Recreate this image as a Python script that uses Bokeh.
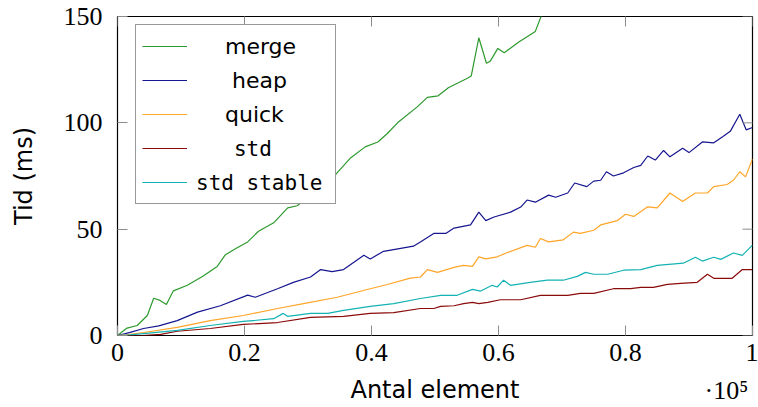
import math
from bokeh.plotting import figure
from bokeh.models import Range1d, FixedTicker, LinearAxis, Legend, LegendItem
from bokeh.embed import file_html
from bokeh.resources import INLINE

# ---------------- data ----------------
x_ticks = [0, 20000, 40000, 60000, 80000, 100000]
x_tick_labels = ["0", "0.2", "0.4", "0.6", "0.8", "1"]
y_ticks = [0, 50, 100, 150]
x_scale_label = "\u00b710\u2075"

merge_x = [0, 1500, 3100, 4700, 5700, 6700, 7700, 8800, 11000, 13500, 15700, 17000, 18700,
           20500, 22200, 24600, 26800, 28300, 34300, 36700, 39000, 41000, 42500, 44100,
           47200, 48800, 50500, 52100, 55100, 55700, 56900, 58100, 58700, 59900, 60900,
           63200, 65800, 66700, 68500, 70000]
merge_y = [0, 3.5, 4.7, 9.4, 17.5, 16.5, 14.6, 21, 23.6, 28, 32.5, 38, 41,
           44, 49, 53, 60, 61, 75.5, 83.5, 88.7, 91, 95, 100,
           107.5, 112, 112.7, 116.5, 121, 122, 140, 128, 129, 135, 133,
           138, 143, 150, 160, 168]

heap_x = [0, 2000, 4100, 6500, 9400, 12600, 16200, 20500, 21700, 25200, 27700, 30400, 32000,
          33800, 35600, 38800, 39800, 41900, 44600, 46600, 47700, 49800, 51700, 53000,
          55600, 56900, 58000, 59300, 61900, 63500, 64500, 65800, 67900, 69000, 70900,
          72000, 73900, 75000, 76100, 77000, 78100, 79700, 81300, 82400, 83500, 84700,
          86000, 87000, 89000, 90000, 92100, 93900, 95300, 96500, 98000, 99000, 100000]
heap_y = [0, 1.5, 3.3, 4.5, 7, 11, 14, 19, 18, 22, 25, 27.5, 31,
          30, 31, 37.7, 36, 39.6, 41, 42, 44, 48, 48, 50.5,
          52, 58, 54, 55.7, 58, 60.4, 63.7, 62.7, 66, 65, 67,
          71.7, 70, 72.6, 73, 77, 75, 76.5, 79, 80, 84.4, 82.5,
          87, 84, 88, 86, 91, 90.6, 93.5, 96, 104, 96.7, 97.8]

quick_x = [0, 2000, 4100, 9400, 14600, 19800, 25200, 29300, 34600, 39800, 42500, 46100,
           47700, 48800, 50400, 53000, 54500, 55900, 56900, 58000, 59800, 61400, 64500,
           65800, 66600, 67900, 70200, 71800, 72900, 75000, 76100, 78700, 80000, 81300,
           83500, 85000, 87000, 89000, 91000, 92900, 93900, 96000, 97000, 98000, 98900, 100000]
quick_y = [0, 0.5, 1.4, 3.8, 7, 9.4, 12.7, 15, 18, 22, 24, 27,
           27.5, 31, 29.7, 32, 33, 32.5, 37, 36, 37, 39, 42.4,
           41.5, 45.6, 44, 45, 48.6, 48, 49.5, 52, 54, 57, 56,
           60.5, 60, 67, 63, 67, 67, 70, 71, 73, 77, 74.6, 83]

std_x = [0, 4000, 6800, 9400, 14600, 19800, 25200, 30400, 35600, 39800, 43500, 47700,
         49800, 50900, 53000, 54500, 55900, 56900, 58300, 60300, 63500, 66600, 70900,
         72900, 75000, 78100, 80800, 82400, 84400, 86600, 88700, 91300, 92900, 93900,
         96800, 98400, 100000]
std_y = [0, 0, 0.5, 2, 3.3, 5.2, 6.1, 8.5, 9, 10.4, 10.8, 12.7,
         12.7, 13.7, 14, 15, 15.6, 15, 15.6, 16.8, 16.8, 18.9, 18.9,
         19.8, 19.8, 22, 22, 22.6, 22.6, 24, 24.5, 25, 28.8, 26.9,
         26.9, 31, 31]

stable_x = [0, 2000, 4100, 9400, 14600, 19800, 24600, 26100, 26800, 30400, 33100, 35600,
            39800, 43500, 47700, 50900, 53500, 55900, 57200, 59000, 59800, 60800, 61900,
            65000, 67700, 70200, 72400, 73700, 75000, 77200, 79700, 82400, 85000, 89100,
            91000, 92100, 93900, 95000, 97000, 98400, 100000]
stable_y = [0, 0.3, 0.9, 2.4, 4.7, 6.6, 7.9, 10.4, 9, 10.4, 10.4, 11.8,
            13.7, 15, 17.4, 18.9, 18.9, 21.7, 20.9, 23.6, 22.8, 26, 23.6,
            25, 26, 26, 27.8, 29.7, 28.8, 28.8, 30.7, 31, 33, 34,
            36.8, 35, 36.8, 35.8, 38.8, 37.7, 42.5]

names = ["merge", "heap", "quick", "std", "std stable"]
colors = ["#2e9a2e", "#16168f", "#ffa528", "#8b0a0a", "#14b2b2"]

X_MIN, X_MAX = 0, 100000
Y_MIN, Y_MAX = 0, 150
SCALE_LABEL_POS = 95900   # where the "·10⁵" note sits along x

# ---------------- figure ----------------
p = figure(width=758, height=407, output_backend="svg", toolbar_location=None,
           x_range=Range1d(X_MIN, X_MAX), y_range=Range1d(Y_MIN, Y_MAX),
           min_border_left=117, min_border_right=6, min_border_top=16, min_border_bottom=72)
p.grid.visible = False
p.outline_line_color = "black"
p.outline_line_width = 1.2
p.background_fill_color = "white"
p.border_fill_color = "white"

tick_col = "#8c8c8c"

xa = p.xaxis[0]
xa.ticker = FixedTicker(ticks=x_ticks)
xa.major_label_overrides = {t: l for t, l in zip(x_ticks, x_tick_labels)}
ya = p.yaxis[0]
ya.ticker = FixedTicker(ticks=y_ticks)

for ax in (xa, ya):
    ax.axis_line_color = None
    ax.major_tick_in = 10
    ax.major_tick_out = 0
    ax.major_tick_line_color = tick_col
    ax.minor_tick_line_color = None
    ax.major_label_text_font = "Liberation Serif"
    ax.major_label_text_font_size = "26px"
    ax.major_label_text_color = "black"

xa.major_label_standoff = 8
ya.axis_label = "Tid (ms)"
ya.axis_label_text_font = "DejaVu Sans"
ya.axis_label_text_font_size = "24px"
ya.axis_label_text_font_style = "normal"
ya.axis_label_text_color = "black"
ya.major_label_standoff = 15
ya.axis_label_standoff = 23

# second, tick-less bottom axis: the "·10⁵" note and the axis title share one row
sc_ax = LinearAxis(ticker=FixedTicker(ticks=[SCALE_LABEL_POS]),
                   major_label_overrides={SCALE_LABEL_POS: x_scale_label},
                   major_tick_in=0, major_tick_out=0, major_tick_line_color=None,
                   minor_tick_line_color=None, axis_line_color=None,
                   major_label_text_font="Liberation Serif",
                   major_label_text_font_size="26px", major_label_text_color="black",
                   major_label_standoff=12,
                   axis_label="Antal element", axis_label_text_font="DejaVu Sans",
                   axis_label_text_font_size="24px", axis_label_text_font_style="normal",
                   axis_label_text_color="black", axis_label_standoff=-32)
p.add_layout(sc_ax, "below")

series = [(merge_x, merge_y), (heap_x, heap_y), (quick_x, quick_y), (std_x, std_y),
          (stable_x, stable_y)]
rends = []
for (xs, ys), c in zip(series, colors):
    rends.append(p.line(xs, ys, line_color=c, line_width=1.2))

# mirrored inward ticks on the top and right frame edges (outer half clipped by frame)
p.scatter(x=x_ticks, y=[Y_MAX] * len(x_ticks), marker="dash", size=20, angle=math.pi / 2,
          line_color=tick_col, line_width=1)
p.scatter(x=[X_MAX] * len(y_ticks), y=y_ticks, marker="dash", size=20,
          line_color=tick_col, line_width=1)

dummy = p.line(x=[], y=[], line_alpha=0)

NB = "\u00a0"
leg1 = Legend(items=[
    LegendItem(label=NB * 4 + names[0], renderers=[rends[0]]),
    LegendItem(label=NB * 5 + names[1], renderers=[rends[1]]),
    LegendItem(label=NB * 4 + names[2], renderers=[rends[2]]),
    LegendItem(label=NB, renderers=[rends[3]]),
    LegendItem(label=NB, renderers=[rends[4]]),
], location=(18, 131), padding=6, spacing=4, glyph_height=30, label_height=30,
    glyph_width=45, label_standoff=10, label_width=132, margin=0,
    border_line_color="#333333", border_line_width=1.2, background_fill_color="white",
    background_fill_alpha=1.0, label_text_font="DejaVu Sans", label_text_font_size="22px",
    label_text_color="black")
leg2 = Legend(items=[
    LegendItem(label=NB * 3 + names[3], renderers=[dummy]),
    LegendItem(label=names[4], renderers=[dummy]),
], location=(18, 131), padding=6, spacing=4, glyph_height=30, label_height=30,
    glyph_width=45, label_standoff=10, label_width=132, margin=0,
    border_line_alpha=0, background_fill_alpha=0,
    label_text_font="DejaVu Sans Mono", label_text_font_size="21px",
    label_text_color="black")
p.add_layout(leg1, "center")
p.add_layout(leg2, "center")

open("out.html", "w").write(file_html(p, INLINE))
